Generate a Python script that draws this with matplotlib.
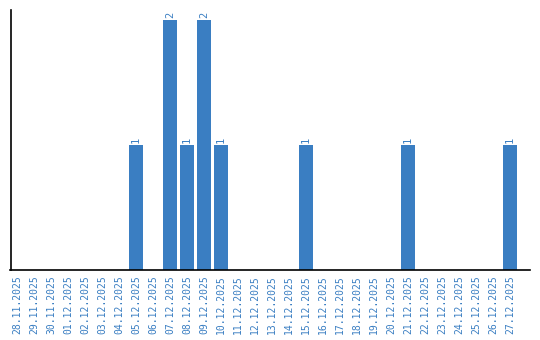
import matplotlib
matplotlib.use("Agg")
import matplotlib.pyplot as plt

dates = ["28.11.2025", "29.11.2025", "30.11.2025", "01.12.2025", "02.12.2025",
         "03.12.2025", "04.12.2025", "05.12.2025", "06.12.2025", "07.12.2025",
         "08.12.2025", "09.12.2025", "10.12.2025", "11.12.2025", "12.12.2025",
         "13.12.2025", "14.12.2025", "15.12.2025", "16.12.2025", "17.12.2025",
         "18.12.2025", "19.12.2025", "20.12.2025", "21.12.2025", "22.12.2025",
         "23.12.2025", "24.12.2025", "25.12.2025", "26.12.2025", "27.12.2025"]
counts = [0, 0, 0, 0, 0, 0, 0, 1, 0, 2,
          1, 2, 1, 0, 0, 0, 0, 1, 0, 0,
          0, 0, 0, 1, 0, 0, 0, 0, 0, 1]

blue = "#3a7ec2"

fig = plt.figure(figsize=(5.4, 3.4), dpi=100)
ax = fig.add_axes([10.5 / 540, 70 / 340, 519.5 / 540, 260 / 340])

x = range(len(dates))
ax.bar(x, counts, width=0.82, color=blue)

# value labels on top of bars
for i, c in enumerate(counts):
    if c > 0:
        ax.text(i, c + 0.015, str(c), rotation=90, ha="center", va="bottom",
                color=blue, fontsize=7.5, family="DejaVu Sans Mono")

ax.set_xlim(-0.38, 30.18)
ax.set_ylim(0, 2.08)
ax.set_xticks(list(x))
ax.set_xticklabels(dates, rotation=90, color=blue, fontsize=7, family="DejaVu Sans Mono")
ax.tick_params(axis="x", length=0, pad=4)
ax.set_yticks([])
for s in ["top", "right"]:
    ax.spines[s].set_visible(False)
ax.spines["left"].set_linewidth(1.2)
ax.spines["bottom"].set_linewidth(1.2)

fig.savefig("out.png", dpi=100)
